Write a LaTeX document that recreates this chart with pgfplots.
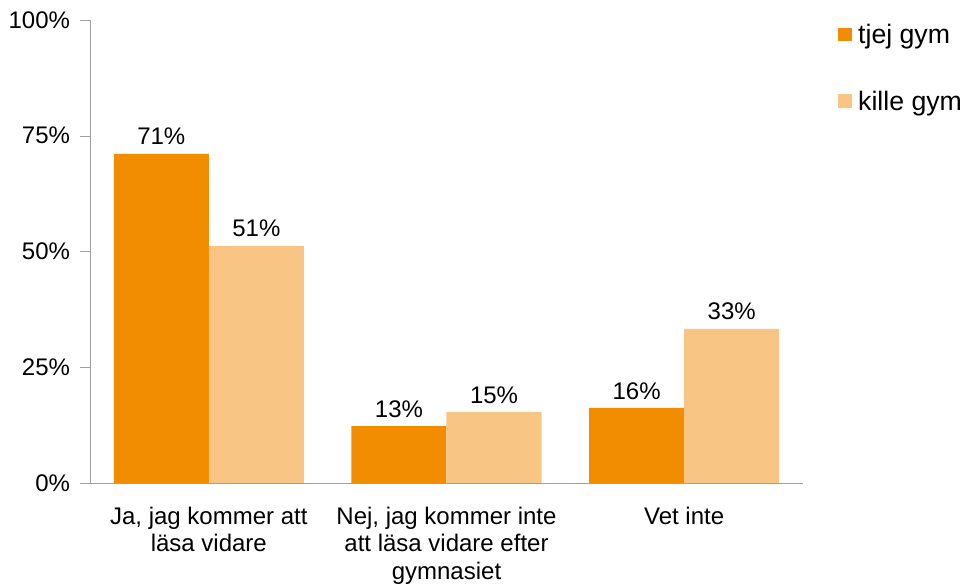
\documentclass[border=0pt]{standalone}
\usepackage{pgfplots}
\pgfplotsset{compat=1.18}
\usepackage{fontspec}
\setmainfont{Liberation Sans}
\definecolor{tjej}{RGB}{242,140,0}
\definecolor{kille}{RGB}{248,197,132}
\definecolor{axisgray}{RGB}{160,160,160}
\begin{document}
\begin{tikzpicture}
\begin{axis}[
  ybar=0pt, bar width=0.4,
  scale only axis, width=534.75pt, height=347.25pt,
  xmin=-0.5, xmax=2.5, ymin=0, ymax=100,
  axis lines*=left, axis line style={axisgray},
  xtick={0,1,2},
  xticklabels={{Ja, jag kommer att\\läsa vidare},{Nej, jag kommer inte\\att läsa vidare efter\\gymnasiet},{Vet inte}},
  x tick label style={align=center, font=\fontsize{18}{20.5}\selectfont, yshift=-7pt},
  major x tick style={draw=none},
  extra x ticks={-0.5,0.5,1.5,2.5}, extra x tick labels={},
  extra x tick style={major tick length=7.5pt, tick style={axisgray, draw=axisgray}, tick align=outside},
  ytick={0,25,50,75,100},
  yticklabel={\pgfmathprintnumber{\tick}\%},
  y tick label style={font=\fontsize{18}{21}\selectfont, xshift=-4pt},
  /pgf/number format/assume math mode=true,
  ytick style={axisgray}, tick align=outside, major tick length=7.5pt,
  point meta=explicit symbolic,
  nodes near coords, every node near coord/.append style={font=\fontsize{18}{21}\selectfont, black, yshift=3pt},
  legend style={at={(rel axis cs:1.049,0.997)}, anchor=north west, draw=none, fill=none,
    font=\fontsize{20}{23}\selectfont, row sep=30pt, inner sep=0pt,
    nodes={inner xsep=5pt}},
  legend cell align=left,
  legend image code/.code={\fill[#1] (0pt,-4.5pt) rectangle (10pt,5.5pt);},
]
\addplot[fill=tjej, draw=none] coordinates {(0,71.1) [71\%] (1,12.3) [13\%] (2,16.2) [16\%]};
\addplot[fill=kille, draw=none] coordinates {(0,51.2) [51\%] (1,15.3) [15\%] (2,33.3) [33\%]};
\legend{tjej gym, kille gym}
\coordinate (o) at (rel axis cs:0,0);
\end{axis}
\pgfresetboundingbox
\path ([shift={(-67.5pt,-76.5pt)}]o) rectangle ([shift={(656.25pt,362.25pt)}]o);
\end{tikzpicture}
\end{document}
